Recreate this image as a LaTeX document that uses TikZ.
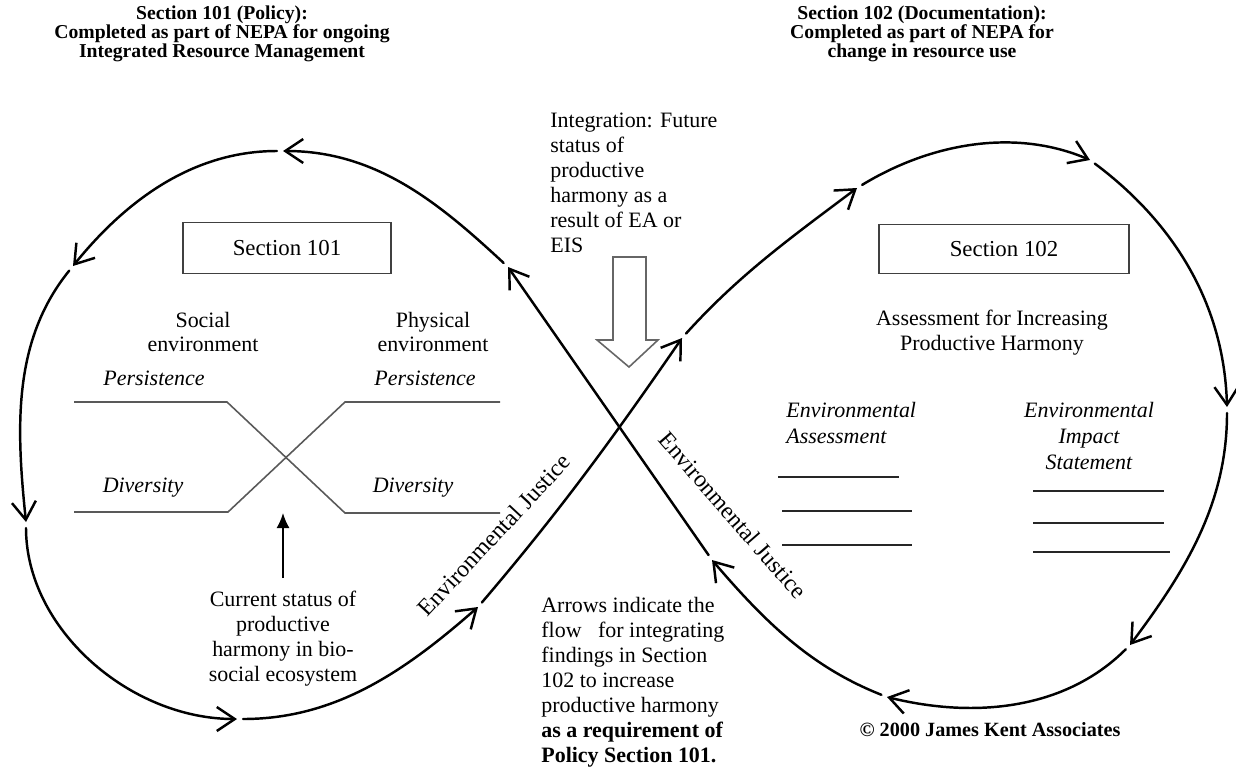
\documentclass[tikz,border=0pt]{standalone}
\usepackage{fontspec}
\setmainfont{Liberation Serif}
\usetikzlibrary{arrows.meta,positioning}

\begin{document}
\begin{tikzpicture}[x=0.02cm, y=-0.02cm,
        flow/.style={line width=1.4pt, line cap=round, shorten <=1.2mm,
            -{Straight Barb[length=3.6mm,width=4.8mm]}},
        heading/.style={align=center, font=\fontsize{11.2}{10.9}\selectfont\bfseries},
        sectbox/.style={draw=black!75, line width=0.9pt, font=\fontsize{13}{15}\selectfont},
        body/.style={align=center, inner sep=0pt, font=\fontsize{12.5}{14.2}\selectfont},
        tag/.style={align=center, inner sep=0pt, font=\fontsize{12.5}{15}\selectfont\itshape},
        justice/.style={inner sep=0pt, font=\fontsize{13.5}{15}\selectfont},
        xline/.style={draw=black!65, line width=0.9pt},
        blank/.style={draw=black!85, line width=1pt}]
        \useasboundingbox (0,0) rectangle (1236,774);

        % Headings
        \node[heading] (h101) at (222,34) {Section 101 (Policy):\\Completed as part of NEPA for ongoing\\Integrated Resource Management};
        \node[heading] (h102) at (922,34) {Section 102 (Documentation):\\Completed as part of NEPA for\\change in resource use};

        % Section boxes
        \node[sectbox, minimum width=4.16cm, minimum height=1.02cm] (s101) at (287,248) {Section 101};
        \node[sectbox, minimum width=5cm, minimum height=0.98cm] (s102) at (1004,249) {Section 102};

        % Section 101 contents
        \node[body] (social) at (203,332) {Social\\environment};
        \node[body] (physical) at (433,332) {Physical\\environment};
        \node[tag] (pers1) at (154,378) {Persistence};
        \node[tag] (pers2) at (425,378) {Persistence};
        \node[tag] (div1) at (143,488) {Diversity};
        \node[tag] (div2) at (413,488) {Diversity};
        \draw[xline] (74,402) -- (227,402) -- (345,513) -- (500,513);
        \draw[xline] (74,512) -- (228,512) -- (345,402) -- (500,402);
        \coordinate (xbottom) at (283,513);
        \node[body, anchor=north] (current) at (283,591) {Current status of\\productive\\harmony in bio-\\social ecosystem};
        \draw[-{Latex[length=3mm,width=2.6mm]}, line width=1pt] ([yshift=0.26cm]current.north) -- (xbottom);

        % Integration note and hollow arrow
        \node[body, align=left, anchor=north west] (integ) at (550,113) {Integration: Future\\status of\\productive\\harmony as a\\result of EA or\\EIS};
        \draw[draw=black!60, fill=white, line width=0.9pt] (613,257) -- (646,257) -- (646,340) -- (658,340) -- (629,367) -- (597,340) -- (613,340) -- cycle;

        % Section 102 contents
        \node[body] (assess) at (992,333) {Assessment for Increasing\\Productive Harmony};
        \node[tag, align=left, anchor=west] (ea) at (786,423) {Environmental\\Assessment};
        \node[tag] (eis) at (1089,436) {Environmental\\Impact\\Statement};
        \draw[blank] (778,477) -- (899,477);
        \draw[blank] (782,511) -- (912,511);
        \draw[blank] (782,545) -- (912,545);
        \draw[blank] (1033,491) -- (1164,491);
        \draw[blank] (1033,523) -- (1164,523);
        \draw[blank] (1033,552) -- (1170,552);

        % Figure eight
        \coordinate (lp1) at (508,267);
        \coordinate (lp2) at (283,151);
        \coordinate (lp3) at (73,266);
        \coordinate (lp4) at (26,522);
        \coordinate (lp5) at (237,719);
        \coordinate (lp6) at (478,607);
        \coordinate (lp7) at (682,338);
        \coordinate (lp8) at (857,188);
        \coordinate (lp9) at (1090,160);
        \coordinate (lp10) at (1227,407);
        \coordinate (lp11) at (1130,645);
        \coordinate (lp12) at (887,697);
        \coordinate (lp13) at (712,560);
        \draw[flow] (lp13) -- (lp1);
        \draw[flow] (lp1) .. controls (440,204) and (377,151) .. (lp2);
        \draw[flow] (lp2) .. controls (195,151) and (128,198) .. (lp3);
        \draw[flow] (lp3) .. controls (13,340) and (16,426) .. (lp4);
        \draw[flow] (lp4) .. controls (26,629) and (130,719) .. (lp5);
        \draw[flow] (lp5) .. controls (335,719) and (404,672) .. (lp6);
        \draw[flow] (lp6) .. controls (559,512) and (611,441) .. (lp7);
        \draw[flow] (lp7) .. controls (739,275) and (789,239) .. (lp8);
        \draw[flow] (lp8) .. controls (931,143) and (1015,128) .. (lp9);
        \draw[flow] (lp9) .. controls (1173,222) and (1224,303) .. (lp10);
        \draw[flow] (lp10) .. controls (1227,502) and (1187,569) .. (lp11);
        \draw[flow] (lp11) .. controls (1066,709) and (976,719) .. (lp12);
        \draw[flow] (lp12) .. controls (811,667) and (765,622) .. (lp13);

        % Loop labels
        \node[justice, rotate=47] (ej1) at (494,535) {Environmental Justice};
        \node[justice, rotate=-49] (ej2) at (733,515) {Environmental Justice};

        % Note on the arrows
        \node[body, align=left, anchor=north west] (note) at (541,597) {Arrows indicate the\\flow \ \ for integrating\\findings in Section\\102 to increase\\productive harmony\\\textbf{as a requirement of}\\\textbf{Policy Section 101.}};
        \node[body, font=\fontsize{11.5}{13}\selectfont\bfseries] (copyr) at (990,730) {\textcopyright{} 2000 James Kent Associates};
    \end{tikzpicture}
\end{document}
